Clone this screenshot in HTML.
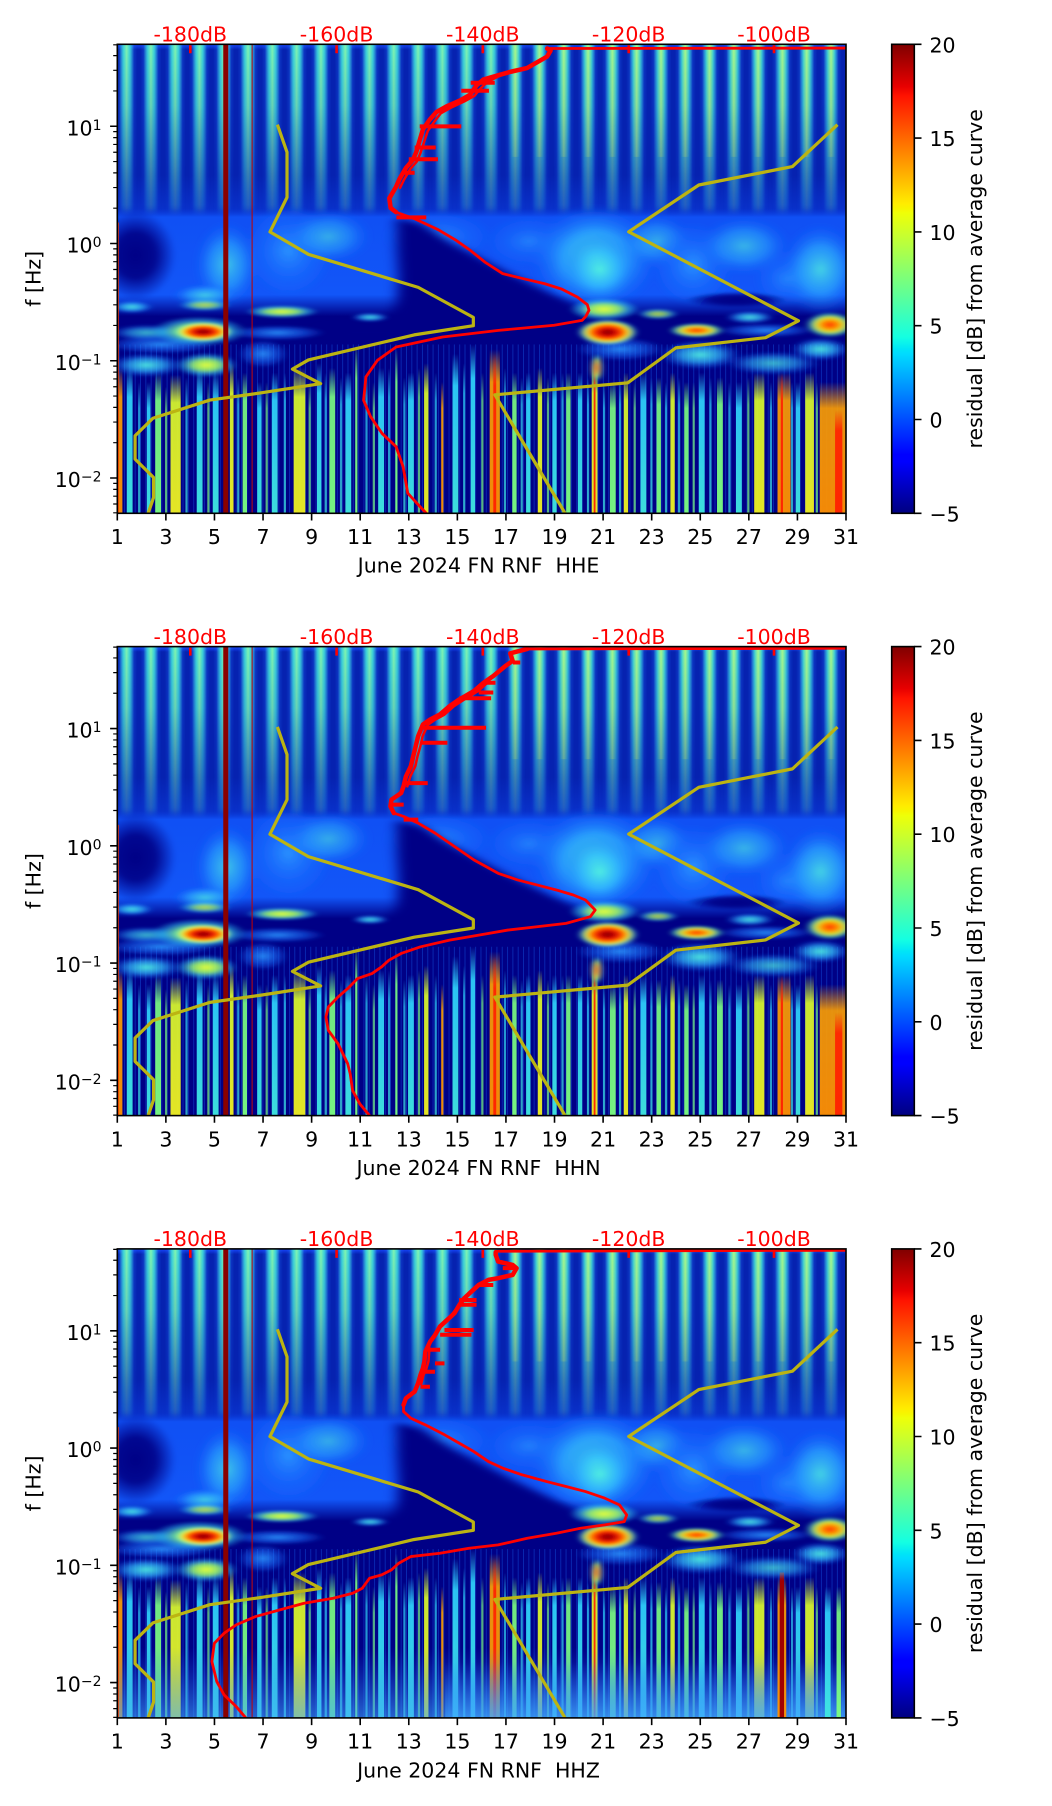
<!DOCTYPE html>
<html><head><meta charset="utf-8"><title>June 2024 FN RNF residual spectrograms</title>
<style>html,body{margin:0;padding:0;background:#fff}svg{display:block}</style>
</head><body>
<svg xmlns="http://www.w3.org/2000/svg" width="1052" height="1806" viewBox="0 0 1052 1806">
<defs>
<linearGradient id="jet" x1="0" y1="1" x2="0" y2="0">
<stop offset="0" stop-color="#000080"/><stop offset=".11" stop-color="#0000ff"/><stop offset=".125" stop-color="#0000ff"/><stop offset=".34" stop-color="#00dbff"/><stop offset=".35" stop-color="#00e5f7"/><stop offset=".375" stop-color="#14ffe2"/><stop offset=".5" stop-color="#7bff7b"/><stop offset=".64" stop-color="#efff08"/><stop offset=".65" stop-color="#f7f500"/><stop offset=".66" stop-color="#ffec00"/><stop offset=".89" stop-color="#ff1300"/><stop offset=".91" stop-color="#e80000"/><stop offset="1" stop-color="#800000"/>
</linearGradient>
<linearGradient id="gTop" x1="0" y1="0" x2="0" y2="1"><stop offset="0" stop-color="#1848ff"/><stop offset=".03" stop-color="#0622b0"/><stop offset=".75" stop-color="#0622b0"/><stop offset="1" stop-color="#0a34d0"/></linearGradient>
<linearGradient id="hHalo"><stop offset="0" stop-color="#2070ff" stop-opacity="0"/><stop offset=".5" stop-color="#2a98ff" stop-opacity=".75"/><stop offset="1" stop-color="#2070ff" stop-opacity="0"/></linearGradient>
<linearGradient id="hCore"><stop offset="0" stop-color="#40d8e0" stop-opacity="0"/><stop offset=".28" stop-color="#40e0d8" stop-opacity=".9"/><stop offset=".5" stop-color="#80f6b0" stop-opacity="1"/><stop offset=".72" stop-color="#40e0d8" stop-opacity=".9"/><stop offset="1" stop-color="#40d8e0" stop-opacity="0"/></linearGradient>
<linearGradient id="hHot"><stop offset="0" stop-color="#e0ff40" stop-opacity="0"/><stop offset=".5" stop-color="#e8ff50" stop-opacity=".8"/><stop offset="1" stop-color="#e0ff40" stop-opacity="0"/></linearGradient>
<pattern id="pTop" patternUnits="userSpaceOnUse" x="-3.87" y="0" width="33.333" height="1000"><rect x="2" width="29.3" height="1000" fill="url(#hHalo)"/><rect x="6.5" width="20.3" height="1000" fill="url(#hCore)"/></pattern>
<pattern id="pHot" patternUnits="userSpaceOnUse" x="-3.87" y="0" width="33.333" height="1000"><rect x="11" width="11.3" height="1000" fill="url(#hHot)"/></pattern>
<pattern id="pLow" patternUnits="userSpaceOnUse" x="0" y="0" width="7.3" height="1000"><rect x="2" width="1.3" height="1000" fill="#1a70ff"/></pattern>
<linearGradient id="vFade" x1="0" y1="0" x2="0" y2="1"><stop offset="0" stop-color="#fff"/><stop offset=".35" stop-color="#fff" stop-opacity=".85"/><stop offset=".7" stop-color="#fff" stop-opacity=".5"/><stop offset=".92" stop-color="#fff" stop-opacity=".25"/><stop offset="1" stop-color="#fff" stop-opacity="0"/></linearGradient>
<mask id="mTop" maskUnits="userSpaceOnUse" x="0" y="0" width="1000" height="1000"><rect width="1000" height="372" fill="url(#vFade)"/></mask>
<linearGradient id="gMid" x1="0" y1="0" x2="0" y2="1"><stop offset="0" stop-color="#0a3ad8" stop-opacity="0"/><stop offset=".08" stop-color="#1050f4"/><stop offset=".8" stop-color="#1256f8"/><stop offset="1" stop-color="#000086"/></linearGradient>
<linearGradient id="gFog" x1="0" y1="0" x2="0" y2="1"><stop offset="0" stop-color="#2070ff" stop-opacity="0"/><stop offset="1" stop-color="#40a8ff" stop-opacity=".6"/></linearGradient>
<filter id="bl" x="-10%" y="-10%" width="120%" height="120%"><feGaussianBlur stdDeviation="9 6"/></filter>
<filter id="bl2" x="-10%" y="-10%" width="120%" height="120%"><feGaussianBlur stdDeviation="4 3"/></filter>
<radialGradient id="rN"><stop offset="0" stop-color="#000086"/><stop offset=".5" stop-color="#000086" stop-opacity=".9"/><stop offset="1" stop-color="#000086" stop-opacity="0"/></radialGradient>
<radialGradient id="rC"><stop offset="0" stop-color="#50f0e0" stop-opacity=".95"/><stop offset=".5" stop-color="#30b8ff" stop-opacity=".7"/><stop offset="1" stop-color="#1060ff" stop-opacity="0"/></radialGradient>
<radialGradient id="rB"><stop offset="0" stop-color="#2c98ff" stop-opacity=".9"/><stop offset=".6" stop-color="#1a70ff" stop-opacity=".5"/><stop offset="1" stop-color="#1a70ff" stop-opacity="0"/></radialGradient>
<radialGradient id="rY"><stop offset="0" stop-color="#e8ff38"/><stop offset=".45" stop-color="#98ff70" stop-opacity=".85"/><stop offset=".75" stop-color="#30d8ff" stop-opacity=".45"/><stop offset="1" stop-color="#30d8ff" stop-opacity="0"/></radialGradient>
<radialGradient id="rH"><stop offset="0" stop-color="#800000"/><stop offset=".22" stop-color="#c00000"/><stop offset=".42" stop-color="#ff3000"/><stop offset=".58" stop-color="#ff9800"/><stop offset=".72" stop-color="#e8ff30" stop-opacity=".9"/><stop offset=".86" stop-color="#60f0c0" stop-opacity=".55"/><stop offset="1" stop-color="#30c0ff" stop-opacity="0"/></radialGradient>
<radialGradient id="rW"><stop offset="0" stop-color="#ff3000"/><stop offset=".35" stop-color="#ff9800"/><stop offset=".6" stop-color="#e0ff30" stop-opacity=".9"/><stop offset=".8" stop-color="#50f0c0" stop-opacity=".55"/><stop offset="1" stop-color="#50f0c0" stop-opacity="0"/></radialGradient>
<linearGradient id="sc" x1="0" y1="0" x2="0" y2="1"><stop offset="0" stop-color="#30d8ff" stop-opacity="0"/><stop offset=".2" stop-color="#30d8ff" stop-opacity=".9"/><stop offset="1" stop-color="#40e8e0" stop-opacity=".95"/></linearGradient>
<linearGradient id="sg" x1="0" y1="0" x2="0" y2="1"><stop offset="0" stop-color="#7cff80" stop-opacity="0"/><stop offset=".2" stop-color="#7cff80" stop-opacity=".9"/><stop offset="1" stop-color="#7cff80" stop-opacity=".95"/></linearGradient>
<linearGradient id="sy" x1="0" y1="0" x2="0" y2="1"><stop offset="0" stop-color="#e0ff28" stop-opacity="0"/><stop offset=".2" stop-color="#e0ff28" stop-opacity=".9"/><stop offset="1" stop-color="#f0f020" stop-opacity=".95"/></linearGradient>
<linearGradient id="so" x1="0" y1="0" x2="0" y2="1"><stop offset="0" stop-color="#ffa000" stop-opacity="0"/><stop offset=".2" stop-color="#ffa000" stop-opacity=".9"/><stop offset="1" stop-color="#ff9000" stop-opacity=".95"/></linearGradient>
<linearGradient id="sr" x1="0" y1="0" x2="0" y2="1"><stop offset="0" stop-color="#ff2000" stop-opacity="0"/><stop offset=".2" stop-color="#ff2000" stop-opacity=".9"/><stop offset="1" stop-color="#ff2000" stop-opacity=".95"/></linearGradient>

<g id="bgA">
<rect width="1000" height="1000" fill="#000086"/>
<rect width="1000" height="372" fill="url(#gTop)"/>
<rect width="1000" height="372" fill="url(#pTop)" mask="url(#mTop)"/>
<rect x="520" width="480" height="240" fill="url(#pHot)" mask="url(#mTop)" opacity=".45"/>
<rect y="350" width="1000" height="230" fill="url(#gMid)"/>
<g filter="url(#bl2)">
<ellipse cx="25" cy="450" rx="55" ry="95" fill="url(#rN)"/>
<ellipse cx="150" cy="470" rx="45" ry="95" fill="url(#rC)" opacity=".75"/>
<ellipse cx="235" cy="440" rx="60" ry="100" fill="url(#rB)"/>
<ellipse cx="290" cy="410" rx="60" ry="60" fill="url(#rC)" opacity=".6"/>
<ellipse cx="440" cy="410" rx="75" ry="55" fill="url(#rB)" opacity=".8"/>
<ellipse cx="565" cy="420" rx="60" ry="55" fill="url(#rB)" opacity=".7"/>
<ellipse cx="655" cy="455" rx="90" ry="115" fill="url(#rC)"/>
<ellipse cx="662" cy="480" rx="50" ry="75" fill="url(#rC)"/>
<ellipse cx="740" cy="420" rx="50" ry="60" fill="url(#rC)" opacity=".6"/>
<ellipse cx="790" cy="470" rx="55" ry="90" fill="url(#rB)"/>
<ellipse cx="860" cy="430" rx="65" ry="65" fill="url(#rC)" opacity=".65"/>
<ellipse cx="920" cy="500" rx="45" ry="60" fill="url(#rB)" opacity=".8"/>
<ellipse cx="965" cy="480" rx="55" ry="100" fill="url(#rC)" opacity=".85"/>
<ellipse cx="120" cy="535" rx="45" ry="25" fill="url(#rC)" opacity=".8"/>
<ellipse cx="850" cy="545" rx="70" ry="18" fill="url(#rN)"/>
</g>
<polygon points="383,370 418,383 460,425 548,496 625,553 645,575 640,595 600,603 520,612 420,620 300,620 280,605 340,595 372,582 383,553 386,496 383,425" fill="#000086" filter="url(#bl)"/>
</g>

<g id="lowA">
<rect y="640" width="1000" height="360" fill="url(#pLow)" opacity=".35"/>
<g opacity=".75">
<rect x="28.5" y="720" width="3" height="280" fill="url(#sc)"/>
<rect x="65.5" y="730" width="3" height="270" fill="url(#sg)"/>
<rect x="93.5" y="710" width="3" height="290" fill="url(#sc)"/>
<rect x="123.5" y="720" width="3" height="280" fill="url(#sg)"/>
<rect x="164.5" y="710" width="3" height="290" fill="url(#sc)"/>
<rect x="203.5" y="720" width="3" height="280" fill="url(#sg)"/>
<rect x="228.5" y="700" width="3" height="300" fill="url(#sc)"/>
<rect x="262.5" y="720" width="3" height="280" fill="url(#sg)"/>
<rect x="284.5" y="700" width="3" height="300" fill="url(#sc)"/>
<rect x="305.5" y="710" width="3" height="290" fill="url(#sc)"/>
<rect x="340.5" y="700" width="3" height="300" fill="url(#sc)"/>
<rect x="350.5" y="720" width="3" height="280" fill="url(#sg)"/>
<rect x="371.5" y="690" width="3" height="310" fill="url(#sc)"/>
<rect x="392.5" y="710" width="3" height="290" fill="url(#sc)"/>
<rect x="412.5" y="690" width="3" height="310" fill="url(#sg)"/>
<rect x="435.5" y="700" width="3" height="300" fill="url(#sc)"/>
<rect x="474.5" y="680" width="3" height="320" fill="url(#sc)"/>
<rect x="499.5" y="700" width="3" height="300" fill="url(#sg)"/>
<rect x="530.5" y="690" width="3" height="310" fill="url(#sc)"/>
<rect x="553.5" y="710" width="3" height="290" fill="url(#sc)"/>
<rect x="589.5" y="710" width="3" height="290" fill="url(#sg)"/>
<rect x="609.5" y="700" width="3" height="300" fill="url(#sc)"/>
<rect x="644.5" y="710" width="3" height="290" fill="url(#sc)"/>
<rect x="666.5" y="720" width="3" height="280" fill="url(#sc)"/>
<rect x="688.5" y="710" width="3" height="290" fill="url(#sc)"/>
<rect x="708.5" y="720" width="3" height="280" fill="url(#sg)"/>
<rect x="731.5" y="710" width="3" height="290" fill="url(#sc)"/>
<rect x="751.5" y="720" width="3" height="280" fill="url(#sc)"/>
<rect x="769.5" y="710" width="3" height="290" fill="url(#sc)"/>
<rect x="789.5" y="720" width="3" height="280" fill="url(#sg)"/>
<rect x="812.5" y="710" width="3" height="290" fill="url(#sc)"/>
<rect x="838.5" y="720" width="3" height="280" fill="url(#sc)"/>
<rect x="864.5" y="710" width="3" height="290" fill="url(#sg)"/>
<rect x="895.5" y="720" width="3" height="280" fill="url(#sc)"/>
<rect x="924.5" y="720" width="3" height="280" fill="url(#sc)"/>
<rect x="958.5" y="720" width="3" height="280" fill="url(#sg)"/>
</g>
<rect x="1" y="690" width="6" height="310" fill="url(#so)"/>
<rect x="13" y="690" width="8" height="310" fill="url(#sc)"/>
<rect x="40.5" y="720" width="5" height="280" fill="url(#sc)"/>
<rect x="52" y="700" width="8" height="300" fill="url(#sg)"/>
<rect x="73" y="705" width="14" height="295" fill="url(#sy)"/>
<rect x="109" y="690" width="8" height="310" fill="url(#sc)"/>
<rect x="131" y="700" width="8" height="300" fill="url(#sc)"/>
<rect x="154.5" y="680" width="5" height="320" fill="url(#sy)"/>
<rect x="172" y="700" width="6" height="300" fill="url(#sg)"/>
<rect x="192" y="720" width="6" height="280" fill="url(#sc)"/>
<rect x="212" y="700" width="8" height="300" fill="url(#sc)"/>
<rect x="242" y="690" width="16" height="310" fill="url(#sy)"/>
<rect x="274" y="680" width="6" height="320" fill="url(#sc)"/>
<rect x="291" y="690" width="8" height="310" fill="url(#sg)"/>
<rect x="313" y="700" width="8" height="300" fill="url(#sc)"/>
<rect x="326.5" y="640" width="3" height="360" fill="url(#sg)"/>
<rect x="358" y="690" width="8" height="310" fill="url(#sc)"/>
<rect x="381.5" y="650" width="3" height="350" fill="url(#sg)"/>
<rect x="399" y="700" width="8" height="300" fill="url(#sc)"/>
<rect x="421" y="680" width="6" height="320" fill="url(#sy)"/>
<rect x="444.5" y="720" width="3" height="280" fill="url(#so)"/>
<rect x="460" y="660" width="8" height="340" fill="url(#sc)"/>
<rect x="485" y="640" width="6" height="360" fill="url(#sc)"/>
<rect x="511" y="650" width="14" height="350" fill="url(#so)"/>
<rect x="516" y="660" width="4" height="340" fill="url(#sr)"/>
<rect x="542" y="700" width="6" height="300" fill="url(#sg)"/>
<rect x="561" y="700" width="6" height="300" fill="url(#sc)"/>
<rect x="577" y="690" width="6" height="310" fill="url(#sy)"/>
<rect x="597" y="700" width="6" height="300" fill="url(#sc)"/>
<rect x="616" y="700" width="6" height="300" fill="url(#sg)"/>
<rect x="632" y="700" width="6" height="300" fill="url(#sc)"/>
<rect x="651" y="680" width="8" height="320" fill="url(#sy)"/>
<rect x="653.75" y="680" width="2.5" height="320" fill="url(#sr)"/>
<rect x="676" y="720" width="8" height="280" fill="url(#sg)"/>
<rect x="695" y="700" width="6" height="300" fill="url(#sy)"/>
<rect x="718" y="700" width="8" height="300" fill="url(#sc)"/>
<rect x="740" y="710" width="6" height="290" fill="url(#sg)"/>
<rect x="759" y="700" width="6" height="300" fill="url(#sy)"/>
<rect x="778" y="720" width="6" height="280" fill="url(#sg)"/>
<rect x="798" y="700" width="8" height="300" fill="url(#sc)"/>
<rect x="823" y="710" width="8" height="290" fill="url(#sg)"/>
<rect x="849" y="720" width="8" height="280" fill="url(#sc)"/>
<rect x="874" y="700" width="14" height="300" fill="url(#sy)"/>
<rect x="931" y="720" width="6" height="280" fill="url(#sc)"/>
<rect x="944" y="700" width="12" height="300" fill="url(#sy)"/>
</g>
<g id="lowR">
<rect x="906" y="700" width="18" height="300" fill="url(#so)"/>
<rect x="910.5" y="700" width="3" height="300" fill="url(#sr)"/>
<rect x="964" y="720" width="36" height="280" fill="url(#so)"/>
<rect x="985" y="780" width="10" height="220" fill="url(#sr)"/>
</g>
<g id="low3x">
<rect y="850" width="1000" height="150" fill="url(#gFog)"/>
<rect x="450" y="880" width="550" height="120" fill="url(#gFog)"/>
<rect x="906" y="700" width="12" height="300" fill="url(#so)"/>
<rect x="909" y="690" width="6" height="310" fill="#a00000"/>
<rect x="971" y="720" width="8" height="280" fill="url(#sc)"/>
<rect x="987" y="720" width="6" height="280" fill="url(#sg)"/>
</g>

<g id="bgB">
<g filter="url(#bl2)">
<ellipse cx="20" cy="560" rx="30" ry="14" fill="url(#rC)"/>
<ellipse cx="120" cy="556" rx="36" ry="13" fill="url(#rY)" opacity=".8"/>
<ellipse cx="226" cy="570" rx="50" ry="14" fill="url(#rY)"/>
<ellipse cx="347" cy="582" rx="26" ry="10" fill="url(#rC)"/>
<ellipse cx="668" cy="565" rx="48" ry="24" fill="url(#rY)"/>
<ellipse cx="742" cy="575" rx="28" ry="12" fill="url(#rY)" opacity=".8"/>
<ellipse cx="868" cy="582" rx="34" ry="14" fill="url(#rC)"/>
<ellipse cx="40" cy="615" rx="50" ry="18" fill="url(#rC)" opacity=".8"/>
<ellipse cx="220" cy="615" rx="65" ry="16" fill="url(#rB)"/>
<ellipse cx="890" cy="610" rx="65" ry="15" fill="url(#rB)"/>
<ellipse cx="60" cy="640" rx="75" ry="20" fill="url(#rB)"/>
<ellipse cx="40" cy="684" rx="50" ry="26" fill="url(#rC)"/>
<ellipse cx="122" cy="684" rx="42" ry="26" fill="url(#rY)"/>
<ellipse cx="200" cy="660" rx="34" ry="30" fill="url(#rB)"/>
<ellipse cx="690" cy="650" rx="60" ry="25" fill="url(#rB)"/>
<ellipse cx="800" cy="662" rx="56" ry="32" fill="url(#rC)"/>
<ellipse cx="900" cy="680" rx="65" ry="26" fill="url(#rC)" opacity=".8"/>
<ellipse cx="965" cy="650" rx="40" ry="25" fill="url(#rC)"/>
<ellipse cx="112" cy="612" rx="66" ry="32" fill="url(#rY)"/>
<ellipse cx="118" cy="613" rx="42" ry="22" fill="url(#rH)"/>
<ellipse cx="673" cy="614" rx="42" ry="28" fill="url(#rH)"/>
<ellipse cx="795" cy="610" rx="38" ry="16" fill="url(#rW)"/>
<ellipse cx="978" cy="598" rx="34" ry="27" fill="url(#rW)"/>
<ellipse cx="658" cy="690" rx="8" ry="30" fill="url(#rW)" opacity=".9"/>
</g>
</g>

<g id="lines">
<rect x="145.4" y="0" width="6.9" height="1000" fill="#8a0000"/>
<rect x="184.3" y="0" width="1.4" height="1000" fill="#c00000"/>
<rect x="0" y="380" width="2" height="620" fill="#ff3a00"/>
</g>

<g id="yel" fill="none" stroke="#bcb412" stroke-width="3.2" stroke-linejoin="round">
<path vector-effect="non-scaling-stroke" d="M219.7,171.3 L232.9,230 L232.9,326.4 L209.5,400 L262.2,447.8 L413,518.3 L488.6,582.3 L488.6,600 L407.4,619.6 L262.2,673 L240.3,692.5 L279,723.6 L196.4,743.4 L127,758.6 L48.9,797.4 L24.4,834.6 L24.4,884.5 L49.8,923.6 L49.8,966.2 L42.4,1000"/>
<path vector-effect="non-scaling-stroke" d="M988.3,171.4 L926.5,260.7 L798,300 L701.8,399.8 L934.8,589.5 L889.5,625.5 L766.5,647.3 L700.5,721.8 L518.2,747.4 L614.5,1000"/>
</g>

<g id="ax" font-family="DejaVu Sans, Liberation Sans, sans-serif" font-size="20.5" fill="#000">
<rect x="117.3" y="0" width="728.7" height="469" fill="none" stroke="#000" stroke-width="1.6"/>
<path d="M117.3,81.95h-7.2M117.3,199.2h-7.2M117.3,316.45h-7.2M117.3,433.7h-7.2" stroke="#000" stroke-width="1.6"/>
<path d="M117.3,0.5h-4.1M117.3,11.36h-4.1M117.3,26.01h-4.1M117.3,46.66h-4.1M117.3,87.32h-4.1M117.3,93.32h-4.1M117.3,100.12h-4.1M117.3,107.97h-4.1M117.3,117.25h-4.1M117.3,128.61h-4.1M117.3,143.26h-4.1M117.3,163.91h-4.1M117.3,204.57h-4.1M117.3,210.57h-4.1M117.3,217.37h-4.1M117.3,225.22h-4.1M117.3,234.5h-4.1M117.3,245.86h-4.1M117.3,260.51h-4.1M117.3,281.16h-4.1M117.3,321.82h-4.1M117.3,327.82h-4.1M117.3,334.62h-4.1M117.3,342.47h-4.1M117.3,351.75h-4.1M117.3,363.11h-4.1M117.3,377.76h-4.1M117.3,398.41h-4.1M117.3,439.07h-4.1M117.3,445.07h-4.1M117.3,451.87h-4.1M117.3,459.72h-4.1M117.3,468.5h-4.1" stroke="#000" stroke-width="1.2"/>
<path d="M117.3,469v7.2M165.88,469v7.2M214.46,469v7.2M263.04,469v7.2M311.62,469v7.2M360.2,469v7.2M408.78,469v7.2M457.36,469v7.2M505.94,469v7.2M554.52,469v7.2M603.1,469v7.2M651.68,469v7.2M700.26,469v7.2M748.84,469v7.2M797.42,469v7.2M846,469v7.2" stroke="#000" stroke-width="1.6"/>
<path d="M190.3,1v8M336.6,1v8M482.8,1v8M628.7,1v8M774,1v8" stroke="#f00" stroke-width="2.6"/>
<rect x="891.7" y="0" width="22.6" height="469" fill="url(#jet)" stroke="#000" stroke-width="1.6"/>
<path d="M914.3,0h7.2M914.3,93.8h7.2M914.3,187.6h7.2M914.3,281.4h7.2M914.3,375.2h7.2M914.3,469h7.2" stroke="#000" stroke-width="1.6"/>
<text x="101.5" y="91" text-anchor="end">10<tspan dy="-5.5" font-size="14">1</tspan></text>
<text x="101.5" y="208.2" text-anchor="end">10<tspan dy="-5.5" font-size="14">0</tspan></text>
<text x="101.5" y="325.5" text-anchor="end">10<tspan dy="-5.5" font-size="14">−1</tspan></text>
<text x="101.5" y="442.7" text-anchor="end">10<tspan dy="-5.5" font-size="14">−2</tspan></text>
<g text-anchor="middle">
<text x="117.3" y="499.7">1</text><text x="165.88" y="499.7">3</text><text x="214.46" y="499.7">5</text><text x="263.04" y="499.7">7</text><text x="311.62" y="499.7">9</text><text x="360.2" y="499.7">11</text><text x="408.78" y="499.7">13</text><text x="457.36" y="499.7">15</text><text x="505.94" y="499.7">17</text><text x="554.52" y="499.7">19</text><text x="603.1" y="499.7">21</text><text x="651.68" y="499.7">23</text><text x="700.26" y="499.7">25</text><text x="748.84" y="499.7">27</text><text x="797.42" y="499.7">29</text><text x="846" y="499.7">31</text>
</g>
<g text-anchor="middle" fill="#ff0000">
<text x="190.3" y="-2.8">-180dB</text><text x="336.6" y="-2.8">-160dB</text><text x="482.8" y="-2.8">-140dB</text><text x="628.7" y="-2.8">-120dB</text><text x="774" y="-2.8">-100dB</text>
</g>
<text x="929.5" y="8">20</text>
<text x="929.5" y="101.8">15</text>
<text x="929.5" y="195.6">10</text>
<text x="929.5" y="289.4">5</text>
<text x="929.5" y="383.2">0</text>
<text x="929.5" y="477">−5</text>
<text transform="translate(40.5,234.5) rotate(-90)" text-anchor="middle">f [Hz]</text>
<text transform="translate(982,234.5) rotate(-90)" text-anchor="middle">residual [dB] from average curve</text>
</g>
</defs>

<rect width="1052" height="1806" fill="#fff"/>

<!-- Panel 1 HHE -->
<svg x="117.3" y="44.3" width="728.7" height="469" viewBox="0 0 1000 1000" preserveAspectRatio="none">
<use href="#bgA"/><use href="#lowA"/><use href="#lowR"/><use href="#bgB"/><use href="#lines"/><use href="#yel"/>
<g fill="none" stroke="#ff0000" stroke-linejoin="round" stroke-linecap="round">
<path vector-effect="non-scaling-stroke" stroke-width="2.8" d="M1000,8 L590,9 L594.5,13.9 L589.9,26.1 L576,38.4 L562.2,50.7 L539.2,58.8 L520.7,67 L502.3,75.2 L493.1,87.4 L483.9,107.8 L470,120.1 L451.6,132.4 L437.8,144.6 L428.6,160.9 L419.4,181.4 L414.7,205.9 L410.1,230.4 L405.5,246.7 L396.3,263.1 L387.1,287.6 L382.5,303.9 L373.3,328.4 L375.1,348.9 L382.6,358 L408,372 L440,395 L465,418 L485,440 L505,465 L529,489 L558,500 L586.7,510.6 L610,522 L631.4,539 L645,555 L647.3,567 L643,580 L637.8,588.7 L599.5,599 L523,610 L446.4,624 L382.6,645.4 L357,673.8 L341.2,709 L338,759 L347.6,794 L363.5,830 L382.6,858 L392.2,900.7 L398.6,957 L412,980 L424,1000"/>
<path vector-effect="non-scaling-stroke" stroke-width="4.5" d="M590,9 L594.5,13.9 L589.9,26.1 L576,38.4 L562.2,50.7 L539.2,58.8 L520.7,67 L502.3,75.2 L493.1,87.4 L483.9,107.8 L470,120.1 L451.6,132.4 L437.8,144.6 L428.6,160.9 L419.4,181.4 L414.7,205.9 L410.1,230.4 L405.5,246.7 L396.3,263.1 L387.1,287.6 L382.5,303.9 L373.3,328.4 L375.1,348.9 L382.6,358"/>
<path vector-effect="non-scaling-stroke" stroke-width="2.5" d="M525,67 L508,80 L498,95 L490,110 L476,122 L458,135 L444,147 L435,165 L426,185 L421,208 L416,232 L411,250 L402,266 L393,290 L388,306"/>
<path vector-effect="non-scaling-stroke" stroke-width="4" stroke-linecap="butt" d="M485,82 L518,82 M472,99 L510,99 M415,175 L472,175 M408,220 L437,220 M400,245 L440,245 M392,274 L408,274 M383,369 L424,369"/>
</g>
</svg>
<use href="#ax" transform="translate(0,44.3)"/>
<text x="478.5" y="572.7" text-anchor="middle" font-family="DejaVu Sans, Liberation Sans, sans-serif" font-size="20.5">June 2024 FN RNF&#160; HHE</text>

<!-- Panel 2 HHN -->
<svg x="117.3" y="646.6" width="728.7" height="469" viewBox="0 0 1000 1000" preserveAspectRatio="none">
<use href="#bgA"/><use href="#lowA"/><use href="#lowR"/><use href="#bgB"/><use href="#lines"/><use href="#yel"/>
<g fill="none" stroke="#ff0000" stroke-linejoin="round" stroke-linecap="round">
<path vector-effect="non-scaling-stroke" stroke-width="2.8" d="M1000,3.5 L562.6,5 L539.3,14.3 L542.6,30.6 L532.6,41.3 L516,62.7 L502.7,77 L489.3,94.8 L469.4,112.6 L456.1,126.9 L442.7,144.7 L429.4,155.4 L419.4,166.1 L412.8,191 L409.5,212.4 L406.1,233.8 L402.8,255.2 L396.1,276.6 L392.8,297.9 L389.5,312.2 L376.2,326.4 L374.8,340.7 L379.5,355 L392.8,362.1 L412.8,376.3 L436.1,397.7 L462.7,426.2 L489.3,454.7 L522.6,483.3 L549.3,497.5 L575.9,508.2 L602.5,518.9 L625.8,529.6 L642.5,540.3 L655.8,561.7 L649.1,575.9 L615.8,590.2 L575.9,597.3 L536,604.4 L496,615.1 L456,625.8 L416.1,640.1 L389.5,654.3 L372.8,668.6 L362.8,682.8 L349.5,697.1 L329.6,707.8 L316.2,729.2 L302.9,747 L289.6,768.4 L286.3,789.7 L289.6,818.2 L302.9,846.8 L309.6,868.1 L316.2,889.5 L319.6,910.9 L322.9,946.5 L332.9,975.1 L346.2,1000"/>
<path vector-effect="non-scaling-stroke" stroke-width="4.5" d="M562.6,5 L539.3,14.3 L542.6,30.6 L532.6,41.3 L516,62.7 L502.7,77 L489.3,94.8 L469.4,112.6 L456.1,126.9 L442.7,144.7 L429.4,155.4 L419.4,166.1 L412.8,191 L409.5,212.4 L406.1,233.8 L402.8,255.2 L396.1,276.6 L392.8,297.9 L389.5,312.2 L376.2,326.4 L374.8,340.7 L379.5,355"/>
<path vector-effect="non-scaling-stroke" stroke-width="2.5" d="M508,77 L495,95 L476,113 L462,127 L449,145 L436,156 L426,167 L419,191 L416,212 L412,234 L409,255 L402,277 L398,298"/>
<path vector-effect="non-scaling-stroke" stroke-width="4" stroke-linecap="butt" d="M543,34 L553,34 M503,77 L519,77 M496,98 L516,98 M469,110 L513,110 M416,173 L506,173 M416,205 L453,205 M396,291 L426,291 M376,337 L393,337 M393,369 L413,369"/>
</g>
</svg>
<use href="#ax" transform="translate(0,646.6)"/>
<text x="478.5" y="1175" text-anchor="middle" font-family="DejaVu Sans, Liberation Sans, sans-serif" font-size="20.5">June 2024 FN RNF&#160; HHN</text>

<!-- Panel 3 HHZ -->
<svg x="117.3" y="1248.9" width="728.7" height="469" viewBox="0 0 1000 1000" preserveAspectRatio="none">
<use href="#bgA"/><use href="#lowA"/><use href="#low3x"/><use href="#bgB"/><use href="#lines"/><use href="#yel"/>
<g fill="none" stroke="#ff0000" stroke-linejoin="round" stroke-linecap="round">
<path vector-effect="non-scaling-stroke" stroke-width="2.8" d="M1000,3 L519.3,5 L519.3,12.8 L522.6,27 L542.6,34.1 L547.9,41.2 L542.6,55.4 L522.6,62.5 L509.3,66.1 L496,76.8 L486,91 L476,105.2 L469.4,119.4 L462.7,137.2 L452.7,151.4 L442.7,165.6 L436.1,183.4 L429.4,197.6 L422.8,218.9 L421.4,240.2 L419.4,254.4 L416.1,268.7 L412.8,286.4 L408.1,304.2 L396.1,318.4 L392.8,332.6 L392.8,346.8 L402.8,361 L422.8,375.3 L449.4,396.6 L469.4,414.4 L489.3,432.1 L509.3,453.4 L529.3,467.7 L555.9,481.9 L589.2,496.1 L615.8,506.7 L642.5,517.4 L669.1,531.6 L689.1,545.8 L699.1,567.2 L695.7,581.4 L669.1,588.5 L635.8,595.6 L602.5,606.3 L562.6,617 L522.6,631.1 L482.7,638.2 L442.7,648.9 L402.8,656 L386.2,670.2 L376.2,684.4 L362.8,695.1 L346.2,702.2 L336.2,723.5 L322.9,734.2 L296.3,744.8 L256.3,755.5 L223,769.7 L189.7,783.9 L163.1,801.7 L146.5,819.5 L133.2,840.8 L129.8,879.9 L136.5,922.5 L146.5,951 L163.1,975.8 L176.4,1000"/>
<path vector-effect="non-scaling-stroke" stroke-width="4.5" d="M519.3,7.1 L519.3,12.8 L522.6,27 L542.6,34.1 L547.9,41.2 L542.6,55.4 L522.6,62.5 L509.3,66.1 L496,76.8 L486,91 L476,105.2 L469.4,119.4 L462.7,137.2 L452.7,151.4 L442.7,165.6 L436.1,183.4 L429.4,197.6 L422.8,218.9 L421.4,240.2 L419.4,254.4 L416.1,268.7 L412.8,286.4 L408.1,304.2 L396.1,318.4 L392.8,332.6"/>
<path vector-effect="non-scaling-stroke" stroke-width="2.5" d="M502,70 L492,80 L482,94 L475,108 L468,122 L459,140 L449,154 L442,168 L435,185 L428,200 L428,220 L427,240 L424,256 L420,270 L417,288"/>
<path vector-effect="non-scaling-stroke" stroke-width="4" stroke-linecap="butt" d="M529,41 L549,41 M496,77 L516,77 M469,109 L493,109 M469,119 L493,119 M449,173 L489,173 M443,183 L486,183 M429,215 L443,215 M436,244 L449,244 M423,262 L436,262 M416,294 L429,294"/>
</g>
</svg>
<use href="#ax" transform="translate(0,1248.9)"/>
<text x="478.5" y="1777.3" text-anchor="middle" font-family="DejaVu Sans, Liberation Sans, sans-serif" font-size="20.5">June 2024 FN RNF&#160; HHZ</text>
</svg>
</body></html>
